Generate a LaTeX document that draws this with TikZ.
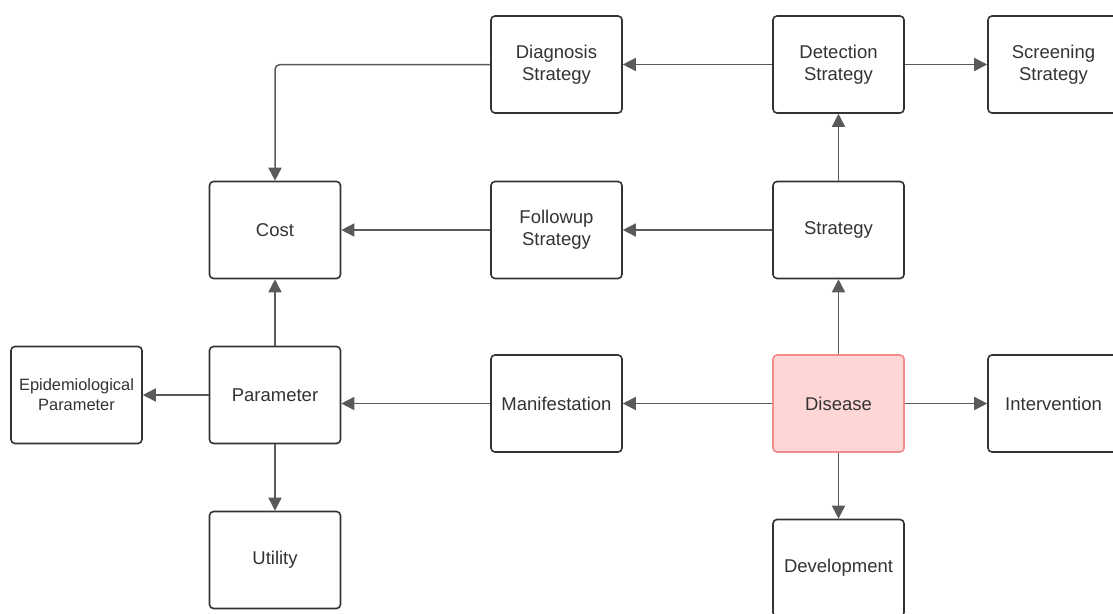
\documentclass[tikz,border=0pt]{standalone}
\usepackage{fontspec}
\setmainfont{Liberation Sans}
\usetikzlibrary{arrows.meta}
\definecolor{boxline}{HTML}{333333}
\definecolor{txt}{HTML}{333333}
\definecolor{conncol}{HTML}{5A5A5A}
\definecolor{disfill}{HTML}{FFD6D6}
\definecolor{disline}{HTML}{F28B8B}
\tikzset{
  box/.style={draw=boxline, line width=1.6pt, rounded corners=4pt, fill=white,
    minimum width=131pt, minimum height=97pt, align=center, text=txt,
    font=\fontsize{18.5}{22}\selectfont, inner sep=2pt},
  hot/.style={box, fill=disfill, draw=disline},
  link/.style={draw=conncol, line width=1.5pt, -{Triangle[length=13pt,width=13pt]}, color=conncol},
}
\begin{document}
\begin{tikzpicture}[x=1pt,y=-1pt]
\useasboundingbox (0,0) rectangle (1113,613);
\clip (0,0) rectangle (1113,613);
\fill[white] (0,0) rectangle (1113,613);
\node[box] (diag) at (556.5,64.5) {Diagnosis\\Strategy};
\node[box] (det) at (838.5,64.5) {Detection\\Strategy};
\node[box] (scr) at (1053.5,64.5) {Screening\\Strategy};
\node[box] (cost) at (275,230) {Cost};
\node[box] (fol) at (556.5,230) {Followup\\Strategy};
\node[box] (str) at (838.5,230) {Strategy};
\node[box, font=\fontsize{16.4}{20}\selectfont] (epi) at (76.5,395) {Epidemiological\\Parameter};
\node[box] (par) at (275,395) {Parameter};
\node[box] (man) at (556.5,403.5) {Manifestation};
\node[hot] (dis) at (838.5,403.5) {Disease};
\node[box] (int) at (1053.5,403.5) {Intervention};
\node[box] (uti) at (275,560) {Utility};
\node[box] (dev) at (838.5,568) {Development};
\draw[link] (det) -- (diag);
\draw[link] (det) -- (scr);
\draw[link] (str) -- (det);
\draw[link] (str) -- (fol);
\draw[link] (fol) -- (cost);
\draw[link, rounded corners=5pt] (diag.west) -| (cost.north);
\draw[link] (par) -- (cost);
\draw[link] (par) -- (epi);
\draw[link] (par) -- (uti);
\draw[link] (man.west) -- (man.west -| par.east);
\draw[link] (dis) -- (man);
\draw[link] (dis) -- (str);
\draw[link] (dis) -- (int);
\draw[link] (dis) -- (dev);
\end{tikzpicture}
\end{document}
